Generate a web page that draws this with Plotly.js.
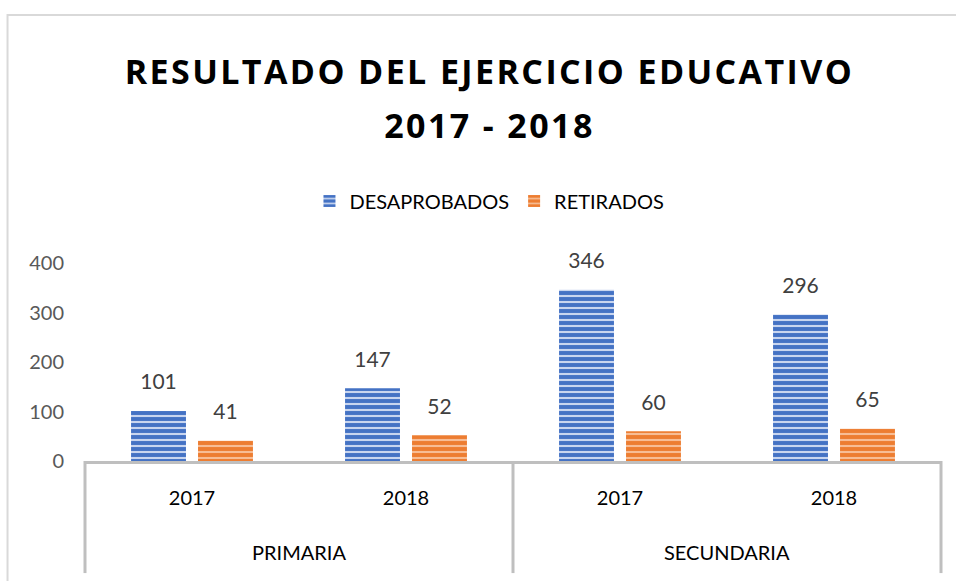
<!DOCTYPE html>
<html>
<head>
<meta charset="utf-8">
<script src="https://cdn.plot.ly/plotly-3.0.1.min.js"></script>
<style>
html,body{margin:0;padding:0;background:#fff;}
#chart{width:956px;height:581px;}
.gtitle{letter-spacing:2.4px;}
</style>
</head>
<body>
<div id="chart"></div>
<script>
var niveles = ["PRIMARIA", "PRIMARIA", "SECUNDARIA", "SECUNDARIA"];
var anios = ["2017", "2018", "2017", "2018"];
var desaprobados = [101, 147, 346, 296];
var retirados = [41, 52, 60, 65];
var yTicks = [0, 100, 200, 300, 400];
var grupos = ["PRIMARIA", "SECUNDARIA"];

// unique category keys built from the two label levels
var categorias = niveles.map(function (n, i) { return n + " " + anios[i]; });

var labelTemplate = '<span style="font-size:21px">%{y}</span><br> ';
var labelFont = {family: "Lato, 'Open Sans', sans-serif", size: 12, color: "#404040"};

var traces = [
  {
    type: "bar",
    name: "DESAPROBADOS",
    x: categorias,
    y: desaprobados,
    texttemplate: labelTemplate,
    textposition: "outside",
    textfont: labelFont,
    cliponaxis: false,
    marker: {
      color: "#4472C4",
      line: {width: 0},
      pattern: {shape: "-", bgcolor: "#4472C4", fgcolor: "#c8d5ef", size: 6, solidity: 0.35, fillmode: "replace"}
    },
    hoverinfo: "none"
  },
  {
    type: "bar",
    name: "RETIRADOS",
    x: categorias,
    y: retirados,
    texttemplate: labelTemplate,
    textposition: "outside",
    textfont: labelFont,
    cliponaxis: false,
    marker: {
      color: "#ED7D31",
      line: {width: 0},
      pattern: {shape: "-", bgcolor: "#ED7D31", fgcolor: "#f7bd95", size: 6, solidity: 0.35, fillmode: "replace"}
    },
    hoverinfo: "none"
  }
];

var annotations = grupos.map(function (g, i) {
  return {
    text: g, xref: "paper", yref: "paper",
    x: 0.25 + 0.5 * i, y: -0.46, xanchor: "center", yanchor: "middle",
    showarrow: false,
    font: {family: "Lato, 'Open Sans', sans-serif", size: 20, color: "#000000"}
  };
});

var shapes = [
  {type: "rect", xref: "paper", yref: "paper", x0: -0.0905, x1: 1.2, y0: -1.0, y1: 2.2525,
   line: {color: "#d9d9d9", width: 2}, fillcolor: "rgba(0,0,0,0)", layer: "below"}
];
[0, 0.5, 1].forEach(function (xp) {
  shapes.push({type: "line", xref: "paper", yref: "paper", x0: xp, x1: xp, y0: 0, y1: -0.566,
               line: {color: "#bfbfbf", width: 3}});
});

var layout = {
  width: 956,
  height: 581,
  margin: {l: 85, r: 15, t: 263, b: 120, pad: 0},
  paper_bgcolor: "#ffffff",
  plot_bgcolor: "#ffffff",
  barmode: "group",
  bargap: 0.374,
  bargroupgap: 0.18,
  showlegend: true,
  title: {
    text: '<span style="font-size:34px">RESULTADO DEL EJERCICIO EDUCATIVO</span><br><span style="font-size:34px">2017 - 2018</span>',
    font: {family: "'Open Sans', sans-serif", size: 41.5, color: "#000000", weight: "bold"},
    x: 0.512, xref: "container", xanchor: "center",
    y: 0.855, yref: "container", yanchor: "top"
  },
  legend: {
    orientation: "h",
    x: 0.512, xref: "container", xanchor: "center",
    y: 0.654, yref: "container", yanchor: "middle",
    font: {family: "Lato, 'Open Sans', sans-serif", size: 20, color: "#000000"},
    traceorder: "normal"
  },
  xaxis: {
    type: "category",
    categoryorder: "array",
    categoryarray: categorias,
    tickvals: categorias,
    ticktext: anios,
    showline: true,
    linecolor: "#bfbfbf",
    linewidth: 3,
    showgrid: false,
    zeroline: false,
    ticks: "",
    ticklabelstandoff: 17,
    tickfont: {family: "Lato, 'Open Sans', sans-serif", size: 20, color: "#000000"},
    fixedrange: true
  },
  yaxis: {
    range: [0, 400],
    tickvals: yTicks,
    ticktext: yTicks.map(String),
    showline: false,
    showgrid: false,
    zeroline: false,
    ticks: "",
    ticklabelstandoff: 20,
    tickfont: {family: "Lato, 'Open Sans', sans-serif", size: 20, color: "#595959"},
    fixedrange: true
  },
  annotations: annotations,
  shapes: shapes
};

Plotly.newPlot("chart", traces, layout, {staticPlot: true, displayModeBar: false});
</script>
</body>
</html>
